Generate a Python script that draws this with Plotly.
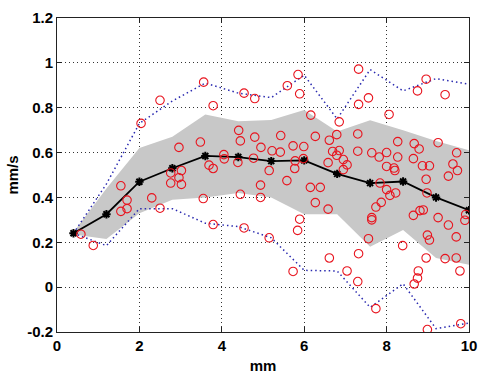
import plotly.graph_objects as go

# Bin centres along the track (mm) and per-bin statistics (mm/s)
bin_x = [0.4, 1.2, 2.0, 2.8, 3.6, 4.4, 5.2, 6.0, 6.8, 7.6, 8.4, 9.2, 10.0]
mean_v = [0.24, 0.325, 0.47, 0.53, 0.585, 0.58, 0.562, 0.565, 0.505, 0.464, 0.471, 0.40, 0.343]
band_upper = [0.245, 0.44, 0.62, 0.67, 0.77, 0.74, 0.745, 0.79, 0.694, 0.744, 0.70, 0.652, 0.61]
band_lower = [0.235, 0.215, 0.33, 0.39, 0.40, 0.42, 0.40, 0.325, 0.325, 0.18, 0.255, 0.13, 0.10]
max_v = [0.24, 0.46, 0.73, 0.83, 0.91, 0.865, 0.845, 0.945, 0.75, 0.97, 0.875, 0.93, 0.905]
min_v = [0.24, 0.185, 0.35, 0.35, 0.285, 0.27, 0.22, 0.075, 0.072, -0.09, 0.015, -0.185, -0.16]

# Individual measurements
sample_x = [
    0.58, 0.88, 1.55, 1.70, 1.70, 1.55, 2.04, 2.30, 2.50, 2.50,
    2.76, 3.02, 2.76, 2.96, 3.02, 2.96, 3.48, 3.56, 3.79, 3.69,
    3.79, 3.55, 3.79, 4.05, 4.06, 4.39, 4.41, 4.45, 4.45, 4.54,
    4.54, 4.77, 4.80, 4.80, 4.95, 4.94, 4.94, 5.15, 5.15, 5.22,
    5.43, 5.42, 5.58, 5.59, 5.73, 5.78, 5.77, 5.73, 5.85, 5.89,
    5.89, 5.84, 5.99, 5.98, 6.16, 6.15, 6.27, 6.27, 6.39, 6.58,
    6.58, 6.61, 6.61, 6.69, 6.79, 6.79, 6.85, 6.85, 6.95, 6.95,
    7.04, 7.04, 7.30, 7.30, 7.32, 7.32, 7.32, 7.30, 7.56, 7.56,
    7.64, 7.64, 7.64, 7.74, 7.74, 7.82, 7.84, 7.87, 8.00, 8.00,
    8.00, 8.06, 8.08, 8.18, 8.20, 8.22, 8.27, 8.27, 8.39, 8.65,
    8.67, 8.65, 8.67, 8.75, 8.75, 8.77, 8.79, 8.81, 8.89, 8.87,
    8.96, 8.96, 8.98, 8.99, 9.04, 8.96, 8.99, 9.04, 9.25, 9.25,
    9.42, 9.42, 9.50, 9.50, 9.61, 9.70, 9.72, 9.69, 9.69, 9.78,
    9.80, 9.90, 9.92,
]
sample_v = [
    0.236, 0.186, 0.452, 0.388, 0.350, 0.338, 0.730, 0.398, 0.352, 0.833,
    0.509, 0.520, 0.464, 0.488, 0.458, 0.623, 0.647, 0.914, 0.809, 0.544,
    0.529, 0.395, 0.279, 0.591, 0.572, 0.556, 0.699, 0.652, 0.414, 0.865,
    0.264, 0.575, 0.841, 0.669, 0.623, 0.455, 0.400, 0.520, 0.220, 0.608,
    0.676, 0.602, 0.475, 0.898, 0.630, 0.563, 0.529, 0.070, 0.948, 0.862,
    0.303, 0.253, 0.627, 0.573, 0.767, 0.445, 0.672, 0.377, 0.445, 0.555,
    0.348, 0.655, 0.130, 0.605, 0.680, 0.588, 0.609, 0.737, 0.569, 0.524,
    0.545, 0.072, 0.683, 0.606, 0.815, 0.972, 0.149, 0.025, 0.844, 0.216,
    0.599, 0.310, 0.300, 0.357, -0.096, 0.580, 0.464, 0.378, 0.600, 0.538,
    0.435, 0.770, 0.409, 0.531, 0.520, 0.420, 0.649, 0.580, 0.185, 0.573,
    0.640, 0.320, 0.014, 0.875, 0.040, 0.072, 0.616, 0.341, 0.344, 0.541,
    0.927, 0.481, 0.420, 0.232, 0.210, 0.130, -0.189, 0.541, 0.644, 0.310,
    0.858, 0.127, 0.495, 0.277, 0.549, 0.599, 0.520, 0.224, 0.130, 0.072,
    -0.163, 0.298, 0.324,
]

x_ticks = [0, 2, 4, 6, 8, 10]
x_tick_text = ["0", "2", "4", "6", "8", "10"]
y_ticks = [-0.2, 0, 0.2, 0.4, 0.6, 0.8, 1.0, 1.2]
y_tick_text = ["-0.2", "0", "0.2", "0.4", "0.6", "0.8", "1", "1.2"]

FONT = "Liberation Sans, Arial, sans-serif"

fig = go.Figure()

# mean +/- spread band
fig.add_trace(go.Scatter(
    x=bin_x + bin_x[::-1],
    y=band_upper + band_lower[::-1],
    fill="toself",
    fillcolor="#c8c8c8",
    line=dict(width=0),
    mode="lines",
    hoverinfo="skip",
))

# max / min envelopes
for env in (max_v, min_v):
    fig.add_trace(go.Scatter(
        x=bin_x, y=env, mode="lines",
        line=dict(color="#2a2ab0", width=1.5, dash="1.5px,3px"),
    ))

# bin means
fig.add_trace(go.Scatter(
    x=bin_x, y=mean_v, mode="lines+markers",
    line=dict(color="black", width=1.8),
    marker=dict(symbol="asterisk-open", size=7, color="black",
                line=dict(color="black", width=2)),
))

# individual samples
fig.add_trace(go.Scatter(
    x=sample_x, y=sample_v, mode="markers",
    marker=dict(symbol="circle-open", size=8.5, color="#e8141e",
                line=dict(color="#e8141e", width=1.1)),
))

axis_common = dict(
    showline=True, linecolor="#222", linewidth=1, mirror="ticks",
    ticks="inside", ticklen=5, tickcolor="#222",
    showgrid=True, gridcolor="#333", gridwidth=1, griddash="1px,3px",
    zeroline=False,
    tickfont=dict(family=FONT, size=15, color="black", weight="bold"),
)

fig.update_xaxes(
    range=[0, 10], tickvals=x_ticks, ticktext=x_tick_text,
    title=dict(text="mm", font=dict(family=FONT, size=15, color="black", weight="bold"),
               standoff=7),
    **axis_common,
)
fig.update_yaxes(
    range=[-0.2, 1.2], tickvals=y_ticks, ticktext=y_tick_text,
    title=dict(text="mm/s", font=dict(family=FONT, size=15, color="black", weight="bold"),
               standoff=4),
    **axis_common,
)

fig.update_layout(
    width=486, height=381,
    margin=dict(l=57, r=9, t=12, b=42),
    paper_bgcolor="white", plot_bgcolor="white",
    showlegend=False,
)

fig.write_html("out.html")
